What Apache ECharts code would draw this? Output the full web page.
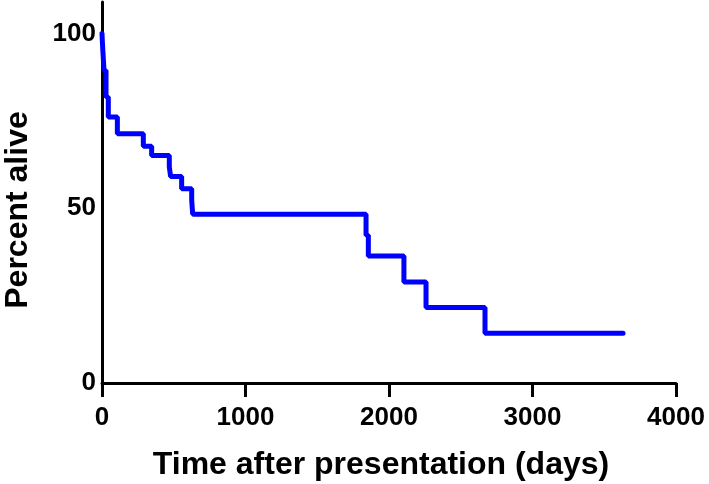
<!DOCTYPE html>
<html>
<head>
<meta charset="utf-8">
<script src="https://cdn.jsdelivr.net/npm/echarts@6/dist/echarts.min.js"></script>
<style>
html,body{margin:0;padding:0;background:#fff;}
#chart{width:709px;height:484px;}
</style>
</head>
<body>
<div id="chart"></div>
<script>
// Kaplan-Meier survival curve (step points: time in days, percent alive after that time)
var timesDays = [0, 3, 6, 10, 14, 28, 44, 107, 288, 346, 469, 478, 555, 625, 632, 1840, 1856, 2104, 2258, 2669, 3631];
var percentAlive = [100, 97.3, 95, 92.3, 89.4, 81.8, 76.1, 71.3, 67.7, 65.1, 61.8, 59.1, 55.6, 52.3, 48.3, 42.3, 36.3, 28.9, 21.6, 14.2, 14.2];
var xTicks = [0, 1000, 2000, 3000, 4000];
var yTicks = [0, 50, 100];
var xTitle = 'Time after presentation (days)';
var yTitle = 'Percent alive';

var seriesData = timesDays.map(function (t, i) { return [t, percentAlive[i]]; });

var chart = echarts.init(document.getElementById('chart'), null, {renderer: 'canvas'});
var FONT = '"Liberation Sans", Arial, Helvetica, sans-serif';
chart.setOption({
  animation: false,
  backgroundColor: '#ffffff',
  grid: {left: 102, right: 33, top: 2, bottom: 101, containLabel: false},
  xAxis: {
    type: 'value',
    min: xTicks[0],
    max: xTicks[xTicks.length - 1],
    interval: 1000,
    axisLine: {show: true, onZero: false, lineStyle: {color: '#000', width: 3}},
    axisTick: {show: true, inside: false, length: 14, lineStyle: {color: '#000', width: 3}},
    axisLabel: {
      color: '#000', fontSize: 26, fontWeight: 'bold', fontFamily: FONT, margin: 22,
      formatter: function (v) { return xTicks.indexOf(v) >= 0 ? String(v) : ''; }
    },
    splitLine: {show: false}
  },
  yAxis: {
    type: 'value',
    min: 0,
    max: 109,
    interval: 50,
    axisLine: {show: true, onZero: false, lineStyle: {color: '#000', width: 3}},
    axisTick: {show: false},
    axisLabel: {
      color: '#000', fontSize: 26, fontWeight: 'bold', fontFamily: FONT, margin: 6,
      formatter: function (v) { return yTicks.indexOf(v) >= 0 ? String(v) : ''; }
    },
    splitLine: {show: false}
  },
  graphic: [
    {
      type: 'text', x: 381, y: 465,
      style: {text: xTitle, fill: '#000', font: 'bold 32px ' + FONT, textAlign: 'center', textVerticalAlign: 'middle'}
    },
    {
      type: 'text', x: 18, y: 210, rotation: Math.PI / 2,
      style: {text: yTitle, fill: '#000', font: 'bold 32px ' + FONT, textAlign: 'center', textVerticalAlign: 'middle'}
    }
  ],
  series: [{
    type: 'line',
    step: 'end',
    data: seriesData,
    showSymbol: false,
    symbol: 'none',
    lineStyle: {color: '#0000ff', width: 5, cap: 'round'},
    clip: false
  }]
});
</script>
</body>
</html>
